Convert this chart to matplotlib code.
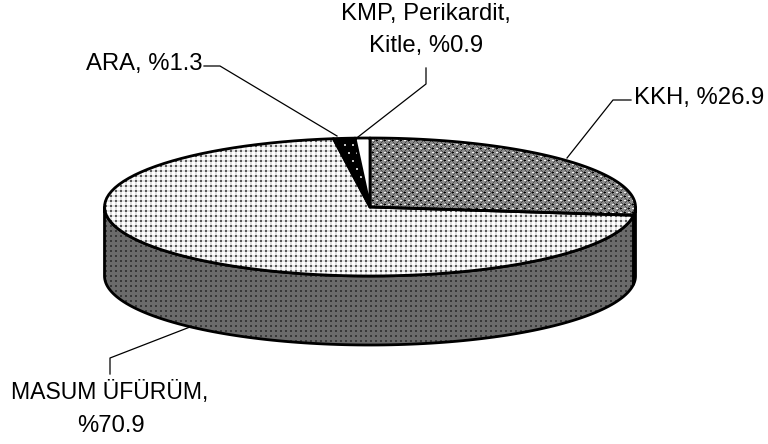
import numpy as np
from matplotlib import pyplot as plt
from matplotlib.patches import Polygon

labels = ['KKH', 'MASUM ÜFÜRÜM', 'ARA', 'KMP, Perikardit, Kitle']
values = [26.9, 70.9, 1.3, 0.9]

plt.rcParams['font.family'] = ['Liberation Sans', 'DejaVu Sans']

# pie geometry in pixels
cx, cy = 370, 207
rx, ry = 265.5, 69
depth = 69


def dots(size, bg, fg, band=None, period=5, stagger=False):
    t = np.full((444, 768), bg, dtype=float)
    yy, xx = np.mgrid[0:444, 0:768]
    off = (yy // period % 2) * (period // 2) if stagger else 0
    if band is not None:
        t[((xx + off) % period < size) | (yy % period < size)] = band
    t[((xx + off) % period < size) & (yy % period < size)] = fg
    return t


def diamonds():
    yy, xx = np.mgrid[0:444, 0:768]
    a = (xx + yy) % 8
    b = (xx - yy) % 8
    t = np.full((444, 768), 0.55)
    t[(a < 2) & (b < 2)] = 0.95
    t[(a >= 4) & (a < 6) & (b >= 4) & (b < 6)] = 0.0
    t[(a == 3) | (b == 3)] = 0.3
    return t


def point(angle):
    a = np.radians(angle)
    return cx + rx * np.sin(a), cy - ry * np.cos(a)


def fill(verts, tile=None, color='white', lw=2.0, z=2):
    edge = Polygon(verts, closed=True, facecolor=color if tile is None else 'none',
                   edgecolor='black', linewidth=lw, joinstyle='round', zorder=z + 0.5)
    ax.add_patch(edge)
    if tile is not None:
        im = ax.imshow(tile, cmap='gray', vmin=0, vmax=1, extent=(0, 768, 444, 0),
                       interpolation='nearest', zorder=z)
        clip = Polygon(verts, closed=True, transform=ax.transData)
        im.set_clip_path(clip)


fig = plt.figure(figsize=(7.68, 4.44), dpi=100)
ax = fig.add_axes([0, 0, 1, 1])

styles = [
    (diamonds(), 'none', None),
    (dots(2, 1.0, 0.35, band=0.88), 'none', dots(2, 0.42, 0.22)),
    (dots(2, 0.0, 0.75, period=8, stagger=True), 'none', None),
    (None, 'white', None),
]

start = 0.0
for v, (tile, col, side) in zip(values, styles):
    end = start + v * 3.6
    ang = np.linspace(start, end, 90)
    rim = [point(a) for a in ang]
    # outer wall, only the part facing the viewer
    lo, hi = max(start, 90), min(end, 270)
    if lo < hi:
        w = [point(a) for a in np.linspace(lo, hi, 120)]
        wall = w + [(x, y + depth) for x, y in w[::-1]]
        fill(wall, tile=side, color='black', z=2)
    fill([(cx, cy)] + rim, tile=tile, color=col, z=3)
    start = end

ax.plot([204, 220, 337], [66, 66, 136], color='black', lw=0.9, zorder=5)
ax.plot([426, 426, 358], [68, 84, 137], color='black', lw=0.9, zorder=5)
ax.plot([631, 613, 567], [100, 100, 158], color='black', lw=0.9, zorder=5)
ax.plot([110, 110, 190], [374, 358, 327], color='black', lw=0.9, zorder=1)

fs = 17.2
pct = ['%' + str(v) for v in values]
ax.text(426, 14, 'KMP, Perikardit,', ha='center', va='center', fontsize=fs)
ax.text(426, 46, 'Kitle, ' + pct[3], ha='center', va='center', fontsize=fs)
ax.text(202, 64, labels[2] + ', ' + pct[2], ha='right', va='center', fontsize=fs)
ax.text(634, 98, labels[0] + ', ' + pct[0], ha='left', va='center', fontsize=fs)
ax.text(110, 393, labels[1] + ',', ha='center', va='center', fontsize=16.6)
ax.text(111, 426, pct[1], ha='center', va='center', fontsize=fs)

ax.set_xlim(0, 768)
ax.set_ylim(444, 0)
ax.axis('off')
fig.savefig('out.png', dpi=100)
